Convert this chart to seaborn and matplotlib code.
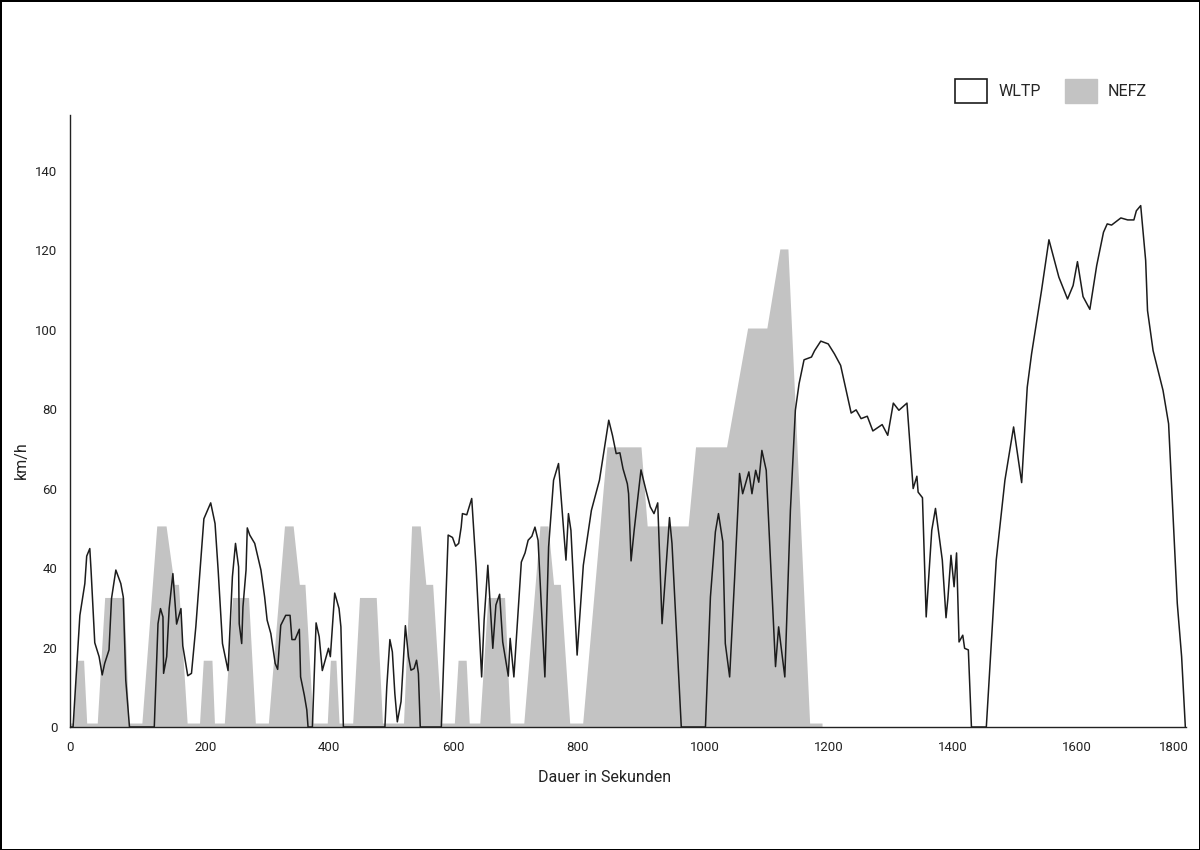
import matplotlib
matplotlib.use("Agg")
import matplotlib.pyplot as plt
import matplotlib.transforms as mtrans
import seaborn as sns
import pandas as pd
from matplotlib.patches import Patch

# WLTP speed trace (seconds, km/h)
wltp_t = [0, 5, 16, 24, 27, 32, 34, 40, 47, 52,
          56, 63, 67, 74, 82, 86, 90, 96, 136, 142,
          146, 150, 151, 156, 160, 166, 172, 179, 182, 190,
          196, 203, 211, 216, 227, 234, 239, 246, 255, 262,
          267, 272, 273, 277, 279, 284, 286, 290, 298, 308,
          314, 318, 324, 331, 335, 340, 348, 355, 358, 363,
          370, 372, 378, 382, 384, 391, 397, 402, 407, 417,
          420, 427, 434, 437, 441, 508, 511, 516, 520, 524,
          528, 534, 541, 546, 550, 555, 559, 562, 565, 599,
          610, 617, 622, 627, 631, 633, 640, 648, 655, 664,
          668, 674, 682, 687, 693, 698, 707, 710, 716, 728,
          734, 739, 745, 750, 755, 766, 772, 780, 788, 800,
          804, 808, 818, 828, 838, 841, 854, 859, 869, 875,
          881, 887, 892, 899, 901, 905, 910, 921, 929, 936,
          942, 948, 955, 967, 971, 986, 1025, 1033, 1041, 1046,
          1053, 1057, 1064, 1072, 1080, 1085, 1095, 1100, 1106, 1111,
          1116, 1123, 1138, 1143, 1153, 1162, 1170, 1176, 1184, 1196,
          1201, 1211, 1223, 1233, 1243, 1260, 1268, 1276, 1286, 1295,
          1310, 1319, 1328, 1337, 1350, 1360, 1366, 1368, 1375, 1381,
          1390, 1396, 1407, 1413, 1416, 1421, 1426, 1430, 1434, 1440,
          1443, 1449, 1454, 1478, 1494, 1508, 1522, 1535, 1544, 1551,
          1567, 1579, 1595, 1609, 1618, 1625, 1634, 1645, 1656, 1667,
          1673, 1680, 1695, 1706, 1716, 1720, 1727, 1735, 1738, 1747,
          1763, 1772, 1786, 1793, 1799]

wltp_v = [0, 0, 28.1, 36.1, 43.0, 44.9, 39.5, 21.2, 17.7, 13.1,
          16.0, 19.4, 32.3, 39.5, 36.1, 32.7, 11.8, 0, 0, 26.0,
          29.8, 27.7, 13.5, 17.7, 29.8, 38.6, 25.9, 29.8, 20.4, 12.9,
          13.5, 25.2, 42.0, 52.4, 56.4, 51.2, 39.5, 21.0, 14.2, 37.8,
          46.2, 40.3, 26.0, 21.0, 30.2, 39.5, 50.1, 48.3, 46.2, 39.5,
          32.7, 26.9, 23.5, 16.0, 14.5, 25.6, 28.1, 28.1, 22.0, 22.0,
          24.6, 12.6, 8.0, 4.3, 0, 0, 26.2, 22.7, 14.2, 19.8,
          17.7, 33.7, 29.8, 25.2, 0, 0, 10.1, 22.0, 18.9, 8.4,
          1.3, 6.4, 25.5, 17.7, 14.3, 14.7, 16.8, 13.5, 0, 0,
          48.3, 47.7, 45.5, 46.2, 50.3, 53.7, 53.4, 57.5, 40.3, 12.6,
          26.9, 40.7, 19.8, 30.7, 33.4, 21.4, 12.8, 22.3, 12.6, 41.5,
          43.8, 47.0, 48.0, 50.3, 47.0, 12.6, 45.3, 62.1, 66.3, 42.0,
          53.7, 49.5, 18.1, 40.7, 51.2, 54.5, 62.1, 67.1, 77.2, 73.4,
          68.8, 69.0, 65.0, 61.2, 58.7, 41.8, 49.5, 64.7, 59.6, 55.4,
          53.7, 56.4, 26.0, 52.7, 46.2, 0, 0, 32.7, 49.1, 53.7,
          46.6, 21.0, 12.6, 37.4, 63.8, 58.7, 64.2, 58.7, 64.6, 61.6,
          69.6, 64.6, 15.2, 25.2, 12.6, 54.5, 79.7, 86.4, 92.4, 93.1,
          94.7, 97.1, 96.4, 93.9, 91.0, 79.0, 79.8, 77.6, 78.2, 74.5,
          76.1, 73.4, 81.5, 79.7, 81.5, 60.0, 63.1, 59.1, 57.7, 27.7,
          49.5, 55.0, 42.0, 27.5, 32.3, 43.2, 35.3, 43.8, 21.4, 23.1,
          19.8, 19.4, 0, 0, 42.0, 62.1, 75.5, 61.5, 85.5, 93.9,
          109.8, 122.6, 113.2, 107.7, 111.1, 117.1, 108.3, 105.1, 116.1, 124.5,
          126.6, 126.3, 128.1, 127.6, 127.6, 129.9, 131.2, 117.4, 104.8, 94.7,
          84.7, 76.3, 31.1, 17.7, 0]

# NEFZ speed profile (seconds, km/h)
nefz_t = [0, 5, 11, 22, 27, 44, 56, 87, 95, 116,
          140, 155, 168, 175, 189, 209, 215, 229, 233, 249,
          262, 288, 299, 320, 346, 360, 370, 379, 392, 415,
          420, 429, 434, 456, 467, 494, 504, 538, 551, 565,
          574, 585, 599, 620, 626, 639, 644, 661, 674, 701,
          710, 732, 758, 771, 780, 791, 806, 827, 866, 921,
          931, 997, 1009, 1059, 1093, 1124, 1145, 1158, 1193, 1213]

nefz_v = [1, 1, 16.8, 16.8, 1, 1, 32.6, 32.6, 1, 1,
          50.6, 50.6, 35.9, 35.9, 1, 1, 16.8, 16.8, 1, 1,
          32.6, 32.6, 1, 1, 50.6, 50.6, 35.9, 35.9, 1, 1,
          16.8, 16.8, 1, 1, 32.6, 32.6, 1, 1, 50.6, 50.6,
          35.9, 35.9, 1, 1, 16.8, 16.8, 1, 1, 32.6, 32.6,
          1, 1, 50.6, 50.6, 35.9, 35.9, 1, 1, 70.5, 70.5,
          50.6, 50.6, 70.5, 70.5, 100.4, 100.4, 120.3, 120.3, 1, 1]

x_ticks = [0, 200, 400, 600, 800, 1000, 1200, 1400, 1600, 1800]
y_ticks = [0, 20, 40, 60, 80, 100, 120, 140]

wltp = pd.DataFrame({"t": wltp_t, "v": wltp_v})
nefz = pd.DataFrame({"t": nefz_t, "v": nefz_v})

sns.set_style("white")
plt.rcParams["font.family"] = ["Roboto", "DejaVu Sans"]

GRAY = "#c3c3c3"
LINE = "#1c1c1c"

fig = plt.figure(figsize=(12, 8.5), dpi=100)
ax = fig.add_axes([0.0583, 0.1447, 0.93, 0.72])

# NEFZ area
ax.fill_between(nefz["t"], 0, nefz["v"], color=GRAY, linewidth=0, zorder=1)

# WLTP line
sns.lineplot(
    data=wltp,
    x="t",
    y="v",
    sort=False,
    estimator=None,
    color=LINE,
    linewidth=1.1,
    ax=ax,
    zorder=3
)

ax.set_xlim(0, 1800)
ax.set_ylim(0, 154)
ax.set_xticks(x_ticks)
ax.set_yticks(y_ticks)
ax.tick_params(axis="both", length=0, labelsize=9.5, colors="#222222")
ax.tick_params(axis="x", pad=10)
ax.tick_params(axis="y", pad=9)

# x labels sit to the right of their tick, except first and last
xlabels = ax.get_xticklabels()
for i, lab in enumerate(xlabels):
    if i == 0:
        lab.set_ha("center")
    elif i == len(xlabels) - 1:
        lab.set_ha("right")
        lab.set_transform(lab.get_transform() + mtrans.ScaledTranslation(2 / 72, 0, fig.dpi_scale_trans))
    else:
        lab.set_ha("left")

sns.despine(ax=ax)
for side in ["left", "bottom"]:
    ax.spines[side].set_color("#222222")
    ax.spines[side].set_linewidth(1.0)

ax.set_xlabel("Dauer in Sekunden", fontsize=11.5, color="#222222")
ax.set_ylabel("km/h", fontsize=11.5, color="#222222")
ax.xaxis.set_label_coords(0.479, -0.071)
ax.yaxis.set_label_coords(-0.0367, 0.436)

handles = [
    Patch(facecolor="white", edgecolor=LINE, linewidth=1.2),
    Patch(facecolor=GRAY, edgecolor=GRAY)
]
fig.legend(
    handles,
    ["WLTP", "NEFZ"],
    loc="center right",
    bbox_to_anchor=(0.956, 0.893),
    ncol=2,
    frameon=False,
    fontsize=11.5,
    handlelength=2.0,
    handleheight=2.0,
    handletextpad=0.7,
    columnspacing=1.5,
    borderpad=0,
    borderaxespad=0
)

# black frame round the picture
fig.patch.set_edgecolor("black")
fig.patch.set_linewidth(2)

fig.savefig("out.png", dpi=100, facecolor="white", edgecolor="black")
